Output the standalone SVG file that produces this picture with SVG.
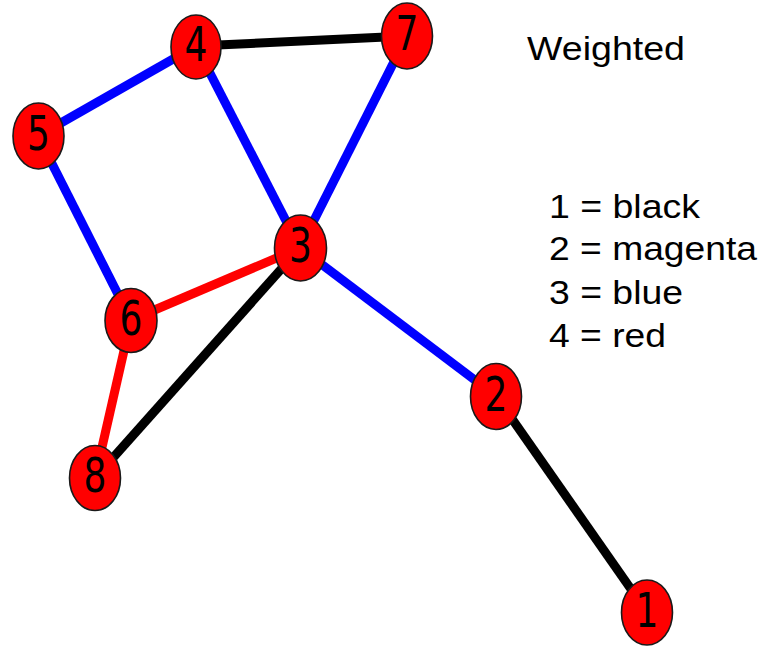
<svg xmlns="http://www.w3.org/2000/svg" width="777" height="651" viewBox="0 0 777 651">
<style>
.e{stroke-width:9;fill:none;stroke-linecap:butt}
.k{stroke:#000}
.b{stroke:#0000ff}
.r{stroke:#ff0000}
.n ellipse{fill:#ff0000;stroke:#1a1a1a;stroke-width:1.6}
.n text{font-family:"DejaVu Sans",sans-serif;font-size:48px;fill:#000;text-anchor:middle}
.lg{font-family:"Liberation Sans",Arial,sans-serif;font-size:33px;fill:#000}
</style>
<rect width="777" height="651" fill="#fff"/>
<g id="edges">
<line class="e k" x1="196" y1="46" x2="407" y2="36"/>
<line class="e b" x1="196" y1="46" x2="38" y2="136"/>
<line class="e b" x1="196" y1="46" x2="300" y2="248"/>
<line class="e b" x1="407" y1="36" x2="300" y2="248"/>
<line class="e b" x1="38" y1="136" x2="131" y2="320"/>
<line class="e r" x1="131" y1="320" x2="300" y2="248"/>
<line class="e k" x1="300" y1="248" x2="95" y2="478"/>
<line class="e r" x1="131" y1="320" x2="95" y2="478"/>
<line class="e b" x1="300" y1="248" x2="496" y2="396"/>
<line class="e k" x1="496" y1="396" x2="647" y2="612"/>
</g>
<g id="node4" class="n"><ellipse cx="196" cy="47" rx="25" ry="32"/><text transform="translate(196 61) scale(0.75 1)">4</text></g>
<g id="node7" class="n"><ellipse cx="407" cy="36" rx="25.5" ry="33"/><text transform="translate(407 50) scale(0.75 1)">7</text></g>
<g id="node5" class="n"><ellipse cx="38.5" cy="136" rx="25.5" ry="33"/><text transform="translate(38.5 150) scale(0.75 1)">5</text></g>
<g id="node3" class="n"><ellipse cx="300.5" cy="248" rx="26" ry="33"/><text transform="translate(300.5 262) scale(0.75 1)">3</text></g>
<g id="node6" class="n"><ellipse cx="131" cy="320.5" rx="26" ry="32"/><text transform="translate(131 334.5) scale(0.75 1)">6</text></g>
<g id="node8" class="n"><ellipse cx="95" cy="478" rx="25.5" ry="32.5"/><text transform="translate(95 492) scale(0.75 1)">8</text></g>
<g id="node2" class="n"><ellipse cx="496" cy="396.5" rx="25.5" ry="33"/><text transform="translate(496 410.5) scale(0.75 1)">2</text></g>
<g id="node1" class="n"><ellipse cx="647" cy="612.5" rx="25.5" ry="32.5"/><text transform="translate(647 626.5) scale(0.75 1)">1</text></g>
<g id="legend">
<text class="lg" x="527" y="60" textLength="158" lengthAdjust="spacingAndGlyphs">Weighted</text>
<text class="lg" x="549" y="218" textLength="151" lengthAdjust="spacingAndGlyphs">1 = black</text>
<text class="lg" x="549" y="260" textLength="208" lengthAdjust="spacingAndGlyphs">2 = magenta</text>
<text class="lg" x="549" y="304" textLength="134" lengthAdjust="spacingAndGlyphs">3 = blue</text>
<text class="lg" x="549" y="347" textLength="117" lengthAdjust="spacingAndGlyphs">4 = red</text>
</g>
</svg>
